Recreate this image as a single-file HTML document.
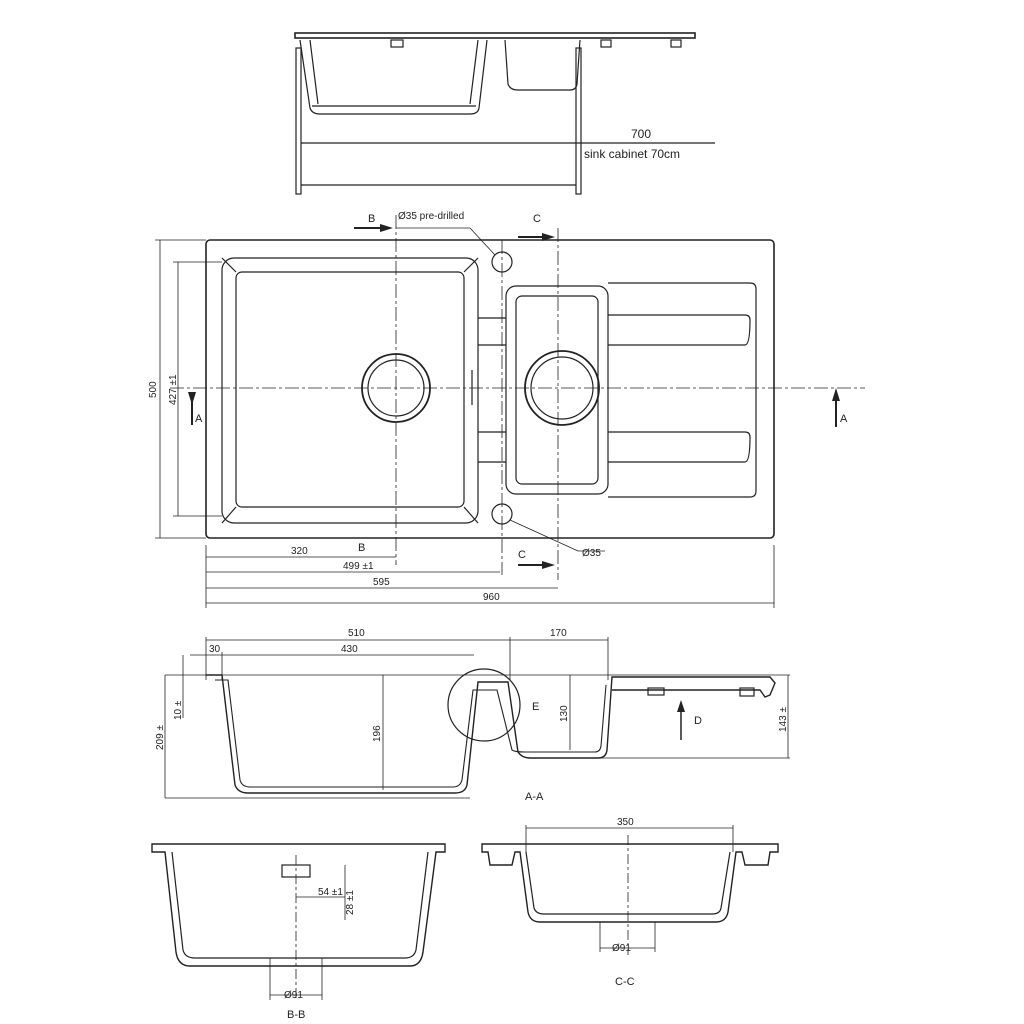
<!DOCTYPE html>
<html><head><meta charset="utf-8"><style>
html,body{margin:0;padding:0;background:#fff;}
svg{display:block}
text{font-family:"Liberation Sans",sans-serif;fill:#222;}
</style></head><body>
<svg width="1024" height="1024" viewBox="0 0 1024 1024" xmlns="http://www.w3.org/2000/svg">
<g fill="none" stroke="#222" stroke-width="1.2">
<!-- top elevation -->
<rect x="295" y="33" width="400" height="5" stroke-width="1.6"/>
<path d="M300 40 L310 108 Q312 114 320 114 L470 114 Q478 114 479 108 L487 40"/>
<path d="M310 40 L318 104 M478 40 L470 104 M312 106 L476 106"/>
<path d="M505 40 L508 84 Q510 90 518 90 L570 90 Q576 90 577 84 L580 40"/>
<rect x="296" y="48" width="5" height="146"/>
<rect x="576" y="48" width="5" height="146"/>
<line x1="301" y1="185" x2="576" y2="185"/>
<line x1="301" y1="143" x2="715" y2="143"/>
<rect x="391" y="40" width="12" height="7"/><rect x="601" y="40" width="10" height="7"/><rect x="671" y="40" width="10" height="7"/>
<!-- plan view -->
<rect x="206" y="240" width="568" height="298" rx="4" stroke-width="1.6"/>
<rect x="222" y="258" width="256" height="265" rx="12"/>
<rect x="236" y="272" width="228" height="235" rx="6"/>
<line x1="222" y1="258" x2="236" y2="272"/><line x1="478" y1="258" x2="464" y2="272"/>
<line x1="222" y1="523" x2="236" y2="507"/><line x1="478" y1="523" x2="464" y2="507"/>
<circle cx="396" cy="388" r="34" stroke-width="1.8"/><circle cx="396" cy="388" r="28"/>
<rect x="506" y="286" width="102" height="208" rx="10"/>
<rect x="516" y="296" width="82" height="188" rx="6"/>
<circle cx="562" cy="388" r="37" stroke-width="1.8"/><circle cx="562" cy="388" r="31"/>
<path d="M608 283 L750 283 Q756 283 756 289 L756 491 Q756 497 750 497 L608 497"/>
<path d="M608 315 L745 315 Q750 315 750 320 Q750 345 745 345 L608 345"/>
<path d="M608 432 L745 432 Q750 432 750 437 Q750 462 745 462 L608 462"/>
<line x1="478" y1="318" x2="506" y2="318"/><line x1="478" y1="345" x2="506" y2="345"/>
<line x1="478" y1="432" x2="506" y2="432"/><line x1="478" y1="462" x2="506" y2="462"/>
<line x1="472" y1="370" x2="472" y2="405"/>
<circle cx="502" cy="262" r="10"/><circle cx="502" cy="514" r="10"/>
<g stroke-dasharray="14,3,3,3" stroke-width="0.8">
<line x1="170" y1="388" x2="865" y2="388"/>
<line x1="396" y1="215" x2="396" y2="565"/>
<line x1="558" y1="228" x2="558" y2="580"/>
<line x1="502" y1="240" x2="502" y2="575"/>
</g>
<g stroke-width="0.8">
<line x1="160" y1="240" x2="160" y2="538"/><line x1="155" y1="240" x2="206" y2="240"/><line x1="155" y1="538" x2="206" y2="538"/>
<line x1="178" y1="262" x2="178" y2="516"/><line x1="173" y1="262" x2="222" y2="262"/><line x1="173" y1="516" x2="222" y2="516"/>
<line x1="206" y1="545" x2="206" y2="608"/><line x1="774" y1="545" x2="774" y2="608"/>
<line x1="206" y1="557" x2="396" y2="557"/><line x1="206" y1="572" x2="500" y2="572"/>
<line x1="206" y1="588" x2="558" y2="588"/><line x1="206" y1="603" x2="774" y2="603"/>
<line x1="396" y1="228" x2="470" y2="228"/><line x1="470" y1="228" x2="495" y2="255"/>
<line x1="510" y1="520" x2="578" y2="551"/><line x1="578" y1="551" x2="605" y2="551"/>
</g>
<!-- A-A section -->
<g stroke-width="0.8">
<line x1="165" y1="675" x2="790" y2="675"/>
<line x1="165" y1="798" x2="470" y2="798"/><line x1="560" y1="758" x2="790" y2="758"/>
<line x1="165" y1="675" x2="165" y2="798"/><line x1="183" y1="655" x2="183" y2="718"/>
<line x1="206" y1="640" x2="510" y2="640"/><line x1="510" y1="640" x2="608" y2="640"/>
<line x1="190" y1="655" x2="474" y2="655"/>
<line x1="206" y1="637" x2="206" y2="680"/><line x1="222" y1="652" x2="222" y2="680"/><line x1="510" y1="637" x2="510" y2="680"/><line x1="608" y1="637" x2="608" y2="680"/>
<line x1="383" y1="675" x2="383" y2="790"/><line x1="570" y1="675" x2="570" y2="750"/><line x1="788" y1="675" x2="788" y2="758"/>
<line x1="681" y1="705" x2="681" y2="740" stroke-width="1.5"/>
</g>
<path d="M206 675 L222 675 L235 785 Q238 793 248 793 L455 793 Q465 793 467 785 L478 682 L508 682 L518 752 Q522 758 530 758 L598 758 Q606 758 607 750 L612 677 L770 677 L775 683 L770 695 L765 697 L760 690 L612 690" stroke-width="1.4"/>
<path d="M215 680 L228 680 L240 780 Q242 787 250 787 L453 787 Q460 787 462 780 L473 690 L485 690 L497 690 L512 750 Q515 752 525 752 L595 752 Q600 752 601 746 L606 685" stroke-width="1.1"/>
<rect x="648" y="688" width="16" height="7"/><rect x="740" y="688" width="14" height="8"/>
<circle cx="484" cy="705" r="36"/>
<!-- B-B -->
<path d="M152 844 L445 844 L445 852 L436 852 L423 952 Q421 966 410 966 L190 966 Q178 966 176 952 L165 852 L152 852 Z" stroke-width="1.4"/>
<path d="M172 852 L183 950 Q185 958 195 958 L405 958 Q414 958 416 950 L428 852"/>
<rect x="282" y="865" width="28" height="12"/>
<line x1="296" y1="855" x2="296" y2="1000" stroke-dasharray="10,3,3,3" stroke-width="0.8"/>
<line x1="270" y1="995" x2="322" y2="995" stroke-width="0.8"/><line x1="270" y1="958" x2="270" y2="1000" stroke-width="0.8"/><line x1="322" y1="958" x2="322" y2="1000" stroke-width="0.8"/>
<line x1="296" y1="897" x2="345" y2="897" stroke-width="0.8"/><line x1="345" y1="865" x2="345" y2="920" stroke-width="0.8"/>
<!-- C-C -->
<path d="M482 844 L778 844 L778 852 L770 852 L768 865 L745 865 L742 852 L736 852 L728 912 Q726 922 716 922 L540 922 Q530 922 528 912 L520 852 L515 852 L512 865 L490 865 L488 852 L482 852 Z" stroke-width="1.4"/>
<path d="M526 852 L534 908 Q536 914 544 914 L712 914 Q720 914 721 908 L730 852"/>
<line x1="526" y1="828" x2="733" y2="828" stroke-width="0.8"/>
<line x1="526" y1="825" x2="526" y2="852" stroke-width="0.8"/><line x1="733" y1="825" x2="733" y2="852" stroke-width="0.8"/>
<line x1="628" y1="835" x2="628" y2="955" stroke-dasharray="10,3,3,3" stroke-width="0.8"/>
<line x1="600" y1="948" x2="655" y2="948" stroke-width="0.8"/><line x1="600" y1="922" x2="600" y2="952" stroke-width="0.8"/><line x1="655" y1="922" x2="655" y2="952" stroke-width="0.8"/>
</g>
<!-- arrows -->
<g fill="#222">
<polygon points="393,228 380,224 380,232"/><polygon points="555,237 542,233 542,241"/>
<polygon points="555,565 542,561 542,569"/>
<rect x="354" y="227" width="28" height="2"/><rect x="518" y="236" width="26" height="2"/><rect x="518" y="564" width="26" height="2"/>
<polygon points="192,405 188,392 196,392"/><polygon points="836,388 832,401 840,401"/>
<rect x="191" y="400" width="2" height="25"/><rect x="835" y="400" width="2" height="27"/>
<polygon points="681,700 677,712 685,712"/>
</g>
<g font-size="11">
<text x="368" y="222">B</text><text x="398" y="219" font-size="10">Ø35 pre-drilled</text>
<text x="533" y="222">C</text><text x="358" y="551">B</text><text x="518" y="558">C</text>
<text x="195" y="422">A</text><text x="840" y="422">A</text>
<text x="582" y="556" font-size="10">Ø35</text>
<text x="631" y="138" font-size="12">700</text><text x="584" y="158" font-size="12">sink cabinet 70cm</text>
<text x="291" y="554" font-size="10">320</text><text x="343" y="569" font-size="10">499 ±1</text>
<text x="373" y="585" font-size="10">595</text><text x="483" y="600" font-size="10">960</text>
<text x="348" y="636" font-size="10">510</text><text x="550" y="636" font-size="10">170</text>
<text x="209" y="652" font-size="10">30</text><text x="341" y="652" font-size="10">430</text>
<text x="532" y="710">E</text><text x="694" y="724">D</text>
<text x="525" y="800">A-A</text><text x="615" y="985">C-C</text><text x="287" y="1018">B-B</text>
<text x="617" y="825" font-size="10">350</text>
<text x="284" y="998" font-size="10">Ø91</text><text x="612" y="951" font-size="10">Ø91</text>
<text x="318" y="895" font-size="10">54 ±1</text>
</g>
<g font-size="10">
<text transform="translate(156,398) rotate(-90)">500</text>
<text transform="translate(176,405) rotate(-90)">427 ±1</text>
<text transform="translate(181,720) rotate(-90)">10 ±</text>
<text transform="translate(163,750) rotate(-90)">209 ±</text>
<text transform="translate(380,742) rotate(-90)">196</text>
<text transform="translate(567,722) rotate(-90)">130</text>
<text transform="translate(786,732) rotate(-90)">143 ±</text>
<text transform="translate(353,915) rotate(-90)">28 ±1</text>
</g>
</svg>
</body></html>
